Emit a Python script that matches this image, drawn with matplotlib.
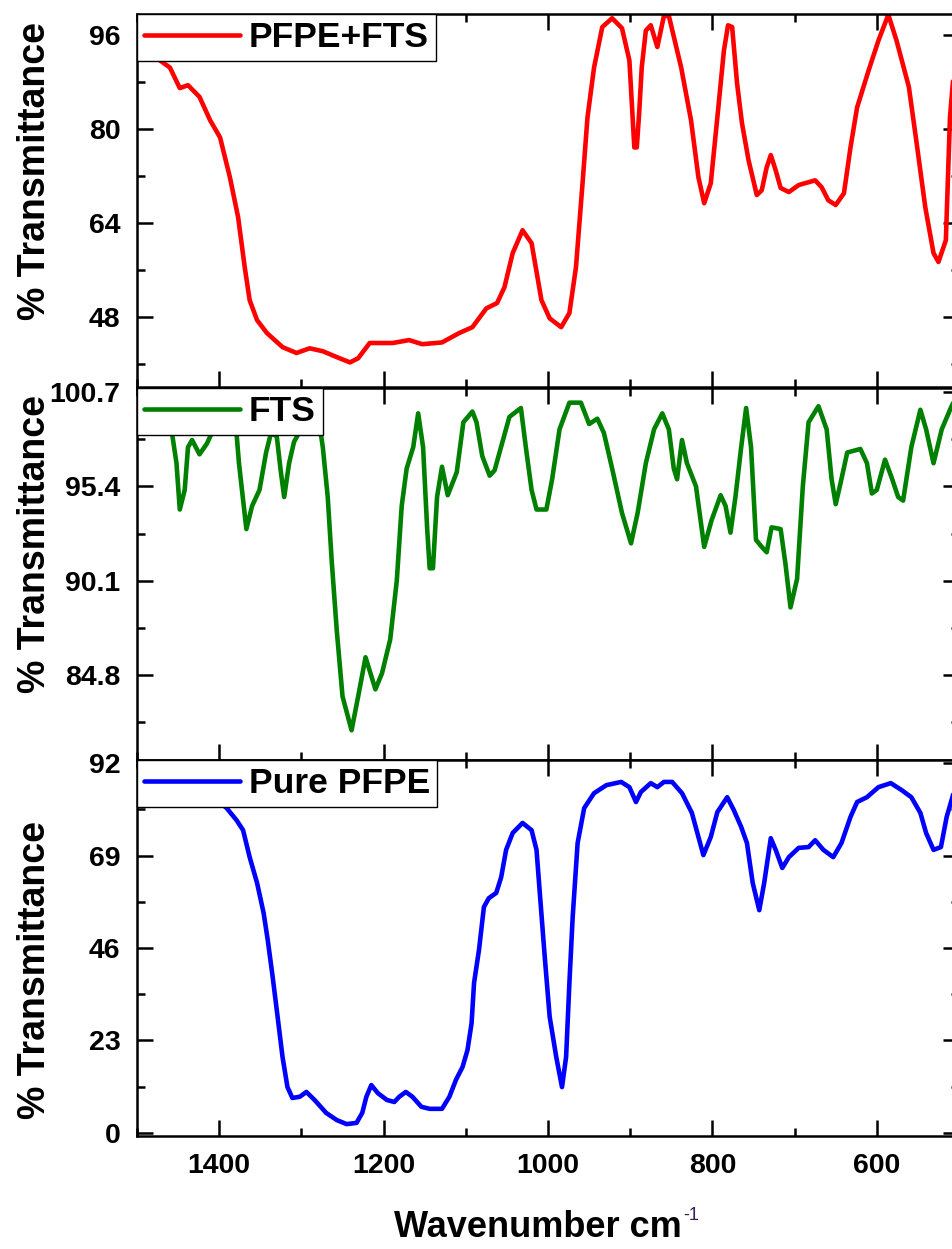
import numpy as np
import matplotlib
matplotlib.use("Agg")
import matplotlib.pyplot as plt
from matplotlib.ticker import FixedLocator, MultipleLocator

plt.rcParams['font.family'] = ['Liberation Sans', 'DejaVu Sans']
plt.rcParams['font.weight'] = 'bold'

# PFPE+FTS (top)
fts_pfpe_x = [1490, 1472, 1460, 1448, 1438, 1424, 1411, 1399, 1387, 1377, 1369, 1363, 1354, 1342,
              1323, 1306, 1290, 1274, 1257, 1241, 1231, 1217, 1189, 1169, 1153, 1129, 1108, 1092,
              1075, 1062, 1053, 1043, 1031, 1020, 1008, 998, 984, 974, 966, 958, 952, 944, 934,
              922, 910, 901, 895, 892, 889, 886, 881, 875, 867, 859, 853, 838, 826, 817, 810, 802,
              794, 786, 781, 776, 770, 764, 756, 746, 740, 734, 729, 723, 717, 707, 695, 675, 667,
              659, 650, 640, 632, 624, 610, 598, 586, 576, 561, 552, 541, 531, 525, 516, 511, 505]
fts_pfpe_y = [95, 91.7, 90.5, 87, 87.5, 85.5, 81.5, 78.6, 71.8, 65, 56.5, 50.9, 47.5, 45.3,
              42.9, 41.9, 42.7, 42.2, 41.2, 40.3, 41, 43.6, 43.6, 44.1, 43.4, 43.7, 45.3, 46.3,
              49.5, 50.4, 53.1, 58.9, 62.8, 60.6, 50.9, 47.8, 46.3, 48.7, 56.5, 70.8, 82, 90.5, 97.4,
              98.9, 97.2, 91.7, 76.9, 76.9, 83, 90.5, 96.8, 97.7, 94, 99.3, 99.3, 90.5, 81.5, 71.8, 67.4, 70.8,
              82, 93.4, 97.7, 97.4, 87.8, 81, 74.7, 68.8, 69.6, 73.5, 75.6, 73, 70, 69.3, 70.5, 71.3, 70.1,
              67.9, 67.1, 69.1, 76.9, 83.7, 90, 95.1, 99.5, 95.1, 87.2, 78.1, 66.7, 58.9, 57.4, 61.1, 82, 92]

# FTS (middle)
fts_x = [1470, 1458, 1452, 1448, 1442, 1438, 1433, 1424, 1415, 1409,
         1395, 1379, 1376, 1367, 1360, 1351, 1343, 1337, 1330, 1325,
         1321, 1315, 1309, 1303, 1290, 1280, 1274, 1268, 1263, 1257,
         1250, 1239, 1231, 1222, 1216, 1210, 1202, 1192, 1184, 1178,
         1172, 1164, 1158, 1152, 1147, 1144, 1140, 1135, 1129, 1122,
         1111, 1103, 1092, 1087, 1080, 1071, 1065, 1056, 1047, 1033,
         1027, 1020, 1014, 1002, 995, 986, 974, 960, 950, 940,
         932, 922, 910, 899, 891, 881, 871, 861, 853, 847,
         843, 837, 831, 820, 810, 801, 790, 784, 778, 772,
         765, 759, 753, 747, 740, 734, 728, 717, 711, 705,
         697, 690, 683, 671, 661, 655, 650, 644, 636, 620,
         612, 606, 600, 590, 582, 574, 568, 558, 547, 540,
         531, 521, 510, 505]
fts_y = [100.2, 98.55, 96.7, 94.1, 95.2, 97.6, 98, 97.2, 97.8, 98.4,
         99.5, 98.4, 96.7, 93, 94.3, 95.2, 97.3, 98.4, 98.2, 96.2,
         94.8, 96.7, 97.9, 98.4, 100.3, 99.5, 97.6, 94.8, 91.1, 87.3,
         83.6, 81.7, 83.6, 85.8, 84.9, 84, 84.9, 86.8, 90.1, 94.3,
         96.4, 97.6, 99.5, 97.6, 93, 90.8, 90.8, 94.8, 96.5, 94.9,
         96.2, 99, 99.6, 99, 97.1, 96, 96.3, 97.8, 99.3, 99.8,
         97.6, 95.2, 94.1, 94.1, 95.8, 98.6, 100.1, 100.1, 98.9, 99.2,
         98.4, 96.4, 93.9, 92.2, 93.9, 96.7, 98.6, 99.5, 98.6, 96.4,
         95.8, 98, 96.7, 95.4, 92, 93.5, 94.9, 94.3, 92.8, 94.8,
         97.6, 99.8, 97.6, 92.4, 92, 91.7, 93.1, 93, 91, 88.6,
         90.2, 95.4, 99, 99.9, 98.6, 95.8, 94.4, 95.6, 97.3, 97.5,
         96.7, 95, 95.2, 96.9, 95.9, 94.8, 94.6, 97.6, 99.7, 98.6,
         96.7, 98.6, 99.8, 100.3]

# Pure PFPE (bottom)
pfpe_x = [1420, 1391, 1379, 1371, 1363, 1354, 1346, 1341, 1335, 1329, 1323, 1317, 1311, 1302,
          1294, 1284, 1270, 1257, 1245, 1233, 1226, 1221, 1215, 1207, 1196, 1187, 1181, 1173,
          1165, 1154, 1144, 1129, 1120, 1112, 1104, 1098, 1093, 1090, 1084, 1078, 1072, 1063,
          1057, 1051, 1043, 1031, 1020, 1014, 1010, 1004, 998, 990, 983, 978, 974, 970, 964,
          956, 944, 929, 911, 901, 893, 887, 875, 867, 859, 849, 837, 825, 817, 811, 802, 794,
          782, 774, 765, 758, 751, 743, 737, 729, 723, 715, 707, 695, 683, 675, 665, 653, 643,
          632, 624, 612, 598, 583, 570, 558, 547, 540, 531, 522, 515, 508, 503]
pfpe_y = [86, 80.8, 77.8, 75.3, 68.6, 62.2, 54.7, 48, 38.8, 28.9, 18.9, 11.4, 8.7, 9,
          10.2, 8.2, 5, 3.2, 2.2, 2.5, 5, 9, 11.9, 9.9, 8.2, 7.7, 9, 10.2,
          9, 6.5, 6, 6, 9, 13.2, 16.4, 20.6, 27.3, 37.3, 45.5, 56.2, 58.4, 59.7,
          63.6, 70.4, 74.6, 77.1, 75.3, 70.4, 59.7, 43.8, 28.9, 18.9, 11.4, 18.9, 37.3, 53.7, 72.1,
          80.8, 84.5, 86.5, 87.3, 86, 82.3, 84.8, 87, 86, 87.3, 87.3, 84.5, 79.6, 73.6, 69.1, 73.6, 79.8,
          83.5, 80.3, 76.1, 72.1, 62.2, 55.4, 62.2, 73.3, 70.4, 65.9, 68.6, 70.9, 71.1, 72.8, 70.4, 68.6, 72.1,
          78.6, 82.3, 83.5, 86, 87, 85.3, 83.5, 79.6, 74.6, 70.4, 71.1, 78.6, 83.5, 88]

panels = [
    dict(x=fts_pfpe_x, y=fts_pfpe_y, color='#ff0000', label='PFPE+FTS',
         ylim=(36.1, 99.6), major=[48, 64, 80, 96], minor=[40, 56, 72, 88],
         ticklabels=['48', '64', '80', '96'], rect=[0.1438, 0.6901, 0.8625, 0.2986], ylab_y=0.579),
    dict(x=fts_x, y=fts_y, color='#008000', label='FTS',
         ylim=(80.03, 100.92), major=[84.8, 90.1, 95.4, 100.7], minor=[82.15, 87.45, 92.75, 98.05],
         ticklabels=['84.8', '90.1', '95.4', '100.7'], rect=[0.1438, 0.3915, 0.8625, 0.2978], ylab_y=0.581),
    dict(x=pfpe_x, y=pfpe_y, color='#0000ff', label='Pure PFPE',
         ylim=(-0.75, 92.75), major=[0, 23, 46, 69, 92], minor=[11.5, 34.5, 57.5, 80.5],
         ticklabels=['0', '23', '46', '69', '92'], rect=[0.1438, 0.0905, 0.8625, 0.3010], ylab_y=0.441),
]

fig = plt.figure(figsize=(9.53, 12.49), dpi=100)

for i, p in enumerate(panels):
    ax = fig.add_axes(p['rect'])
    ax.plot(p['x'], p['y'], color=p['color'], lw=3.3, label=p['label'],
            solid_joinstyle='round', solid_capstyle='round')
    ax.set_xlim(1500, 500)
    ax.set_ylim(*p['ylim'])
    ax.yaxis.set_major_locator(FixedLocator(p['major']))
    ax.yaxis.set_minor_locator(FixedLocator(p['minor']))
    ax.set_yticklabels(p['ticklabels'])
    ax.xaxis.set_major_locator(MultipleLocator(200))
    ax.xaxis.set_minor_locator(MultipleLocator(100))
    ax.tick_params(which='both', direction='in', top=True, right=True, width=1.8)
    ax.tick_params(which='major', length=11.5, labelsize=20.5, pad=12)
    ax.tick_params(which='minor', length=6)
    for s in ax.spines.values():
        s.set_linewidth(1.8)
    ax.set_ylabel('% Transmittance', fontsize=27, fontweight='bold')
    ax.yaxis.set_label_coords(-0.102, p['ylab_y'])
    if i < 2:
        ax.tick_params(labelbottom=False)
    else:
        ax.set_xlabel('Wavenumber cm', fontsize=26, fontweight='bold')
        ax.xaxis.set_label_coords(0.488, -0.197)
        ax.text(0.664, -0.212, '-1', transform=ax.transAxes, fontsize=13,
                color='#3d1c57', fontweight='normal', ha='left', va='center')
    leg = ax.legend(loc='upper left', borderaxespad=0, fancybox=False, framealpha=1,
                    edgecolor='black', borderpad=0.2, handlelength=2.7, handletextpad=0.26,
                    prop=dict(family='Liberation Sans', weight='bold', size=25.5))
    leg.get_frame().set_linewidth(1.0)

fig.savefig('out.png', dpi=100)
